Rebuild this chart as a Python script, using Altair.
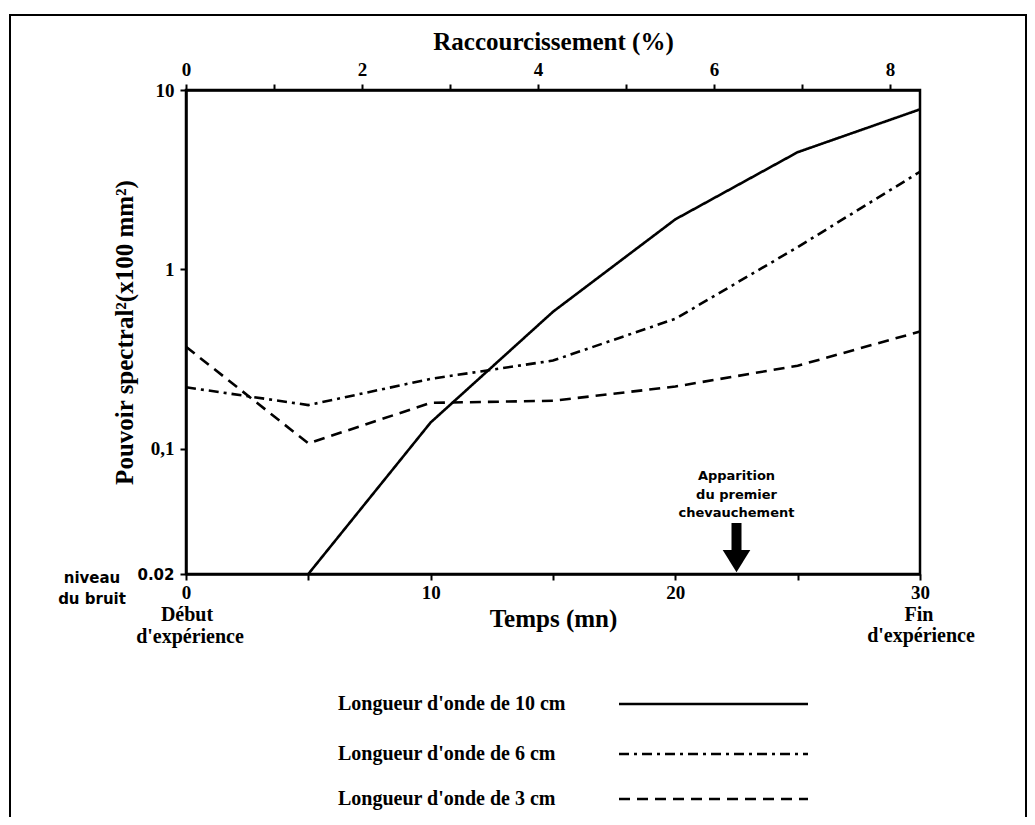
import altair as alt
import pandas as pd

# ---------------- data ----------------
series_names = ["Longueur d'onde de 10 cm", "Longueur d'onde de 6 cm", "Longueur d'onde de 3 cm"]

time_10 = [5, 10, 15, 20, 25, 30]
power_10 = [0.02, 0.14, 0.58, 1.9, 4.5, 7.8]

time_6 = [0, 5, 10, 15, 20, 25, 30]
power_6 = [0.22, 0.175, 0.245, 0.31, 0.53, 1.33, 3.5]

time_3 = [0, 5, 10, 15, 20, 25, 30]
power_3 = [0.37, 0.107, 0.18, 0.185, 0.222, 0.29, 0.45]

x_tick_values = [0, 5, 10, 15, 20, 25, 30]
x_tick_labels = ["0", "", "10", "", "20", "", "30"]
pct_tick_values = [0, 1, 2, 3, 4, 5, 6, 7, 8]
pct_tick_labels = ["0", "", "2", "", "4", "", "6", "", "8"]
pct_max = 8.34
y_tick_values = [0.02, 0.1, 1, 10]
y_tick_labels = ["0.02", "0,1", "1", "10"]

arrow_time = 22.5
arrow_lines = ["Apparition", "du premier", "chevauchement"]
arrow_line_levels = [0.0703, 0.0551, 0.0437]
arrow_shaft = [0.0385, 0.0272]
arrow_head = 0.0236

corner_texts = ["Début", "d'expérience", "Fin", "d'expérience", "niveau", "du bruit"]

# ---------------- layout (pixels, relative to plot origin) ----------------
W, H = 734, 484
corner_x = [1, 4, 733, 735, -94, -94]
corner_y = [525, 547, 525, 546, 488, 509]
legend_text_x = 152
legend_line_x = [433, 622]
legend_y = [614, 664, 709]
dash_styles = [[1, 0], [10, 5, 3, 5], [11, 7]]

SERIF = "Liberation Serif"
SANS = "DejaVu Sans"


def label_expr(values, labels):
    expr = "''"
    for v, l in zip(values, labels):
        expr = f"datum.value == {v} ? '{l}' : ({expr})"
    return expr


rows = []
for name, ts, ps in zip(series_names, [time_10, time_6, time_3], [power_10, power_6, power_3]):
    for t, p in zip(ts, ps):
        rows.append({"t": t, "p": p, "series": name})
lines_df = pd.DataFrame(rows)

x_enc = alt.X(
    "t:Q",
    scale=alt.Scale(domain=[0, 30], nice=False, zero=False),
    axis=alt.Axis(
        values=x_tick_values,
        labelExpr=label_expr(x_tick_values, x_tick_labels),
        title="Temps (mn)",
        titleX=W / 2,
        titleY=44,
        titleBaseline="middle",
        labelPadding=3,
        labelFlush=False,
        labelOverlap=False,
    ),
)

y_axis = alt.Axis(
    values=y_tick_values,
    labelExpr=label_expr(y_tick_values, y_tick_labels),
    title="Pouvoir spectral²(x100 mm²)",
    titleX=-62,
    titleY=H / 2,
    titleBaseline="middle",
    labelPadding=6,
    labelFlush=False,
    labelOverlap=False,
    labelFont={"condition": {"test": "datum.value < 0.05", "value": SANS}, "value": SERIF},
    labelFontSize={"condition": {"test": "datum.value < 0.05", "value": 15}, "value": 19},
)
y_scale = alt.Scale(type="log", domain=[0.02, 10], nice=False)

dash_scale = alt.Scale(domain=series_names, range=dash_styles)

lines = alt.Chart(lines_df).mark_line(color="black", strokeWidth=2.6).encode(
    x=x_enc,
    y=alt.Y("p:Q", scale=y_scale, axis=y_axis),
    strokeDash=alt.StrokeDash("series:N", scale=dash_scale, legend=None),
    detail="series:N",
)

arrow_df = pd.DataFrame({"t": [arrow_time], "top": [arrow_shaft[0]], "bot": [arrow_shaft[1]], "head": [arrow_head]})
shaft = alt.Chart(arrow_df).mark_rule(color="black", strokeWidth=10, strokeCap="butt").encode(
    x=x_enc,
    y=alt.Y("top:Q", scale=y_scale, axis=y_axis),
    y2="bot:Q",
)
head = alt.Chart(arrow_df).mark_point(
    shape="M-1,-0.8L1,-0.8L0,0.8Z", filled=True, color="black", opacity=1, size=760, strokeWidth=0
).encode(
    x=x_enc,
    y=alt.Y("head:Q", scale=y_scale, axis=y_axis),
)
arrow_text_df = pd.DataFrame({"t": [arrow_time] * 3, "p": arrow_line_levels, "text": arrow_lines})
arrow_text = alt.Chart(arrow_text_df).mark_text(
    font=SANS, fontWeight="bold", fontSize=13, color="black", align="center", baseline="middle"
).encode(
    x=x_enc,
    y=alt.Y("p:Q", scale=y_scale, axis=y_axis),
    text="text:N",
)

corner_df = pd.DataFrame({"text": corner_texts, "px": corner_x, "py": corner_y,
                          "font": [SERIF] * 4 + [SANS] * 2})
corner_serif = alt.Chart(corner_df.iloc[:4]).mark_text(
    font=SERIF, fontWeight="bold", fontSize=20, color="black", align="center", baseline="middle"
).encode(
    x=alt.X("px:Q", scale=None), y=alt.Y("py:Q", scale=None), text="text:N"
)
corner_sans = alt.Chart(corner_df.iloc[4:]).mark_text(
    font=SANS, fontWeight="bold", fontSize=15, color="black", align="center", baseline="middle"
).encode(
    x=alt.X("px:Q", scale=None), y=alt.Y("py:Q", scale=None), text="text:N"
)

legend_df = pd.DataFrame({
    "series": series_names,
    "tx": [legend_text_x] * 3,
    "lx": [legend_line_x[0]] * 3,
    "lx2": [legend_line_x[1]] * 3,
    "ly": legend_y,
})
legend_text = alt.Chart(legend_df).mark_text(
    font=SERIF, fontWeight="bold", fontSize=20, color="black", align="left", baseline="middle"
).encode(
    x=alt.X("tx:Q", scale=None), y=alt.Y("ly:Q", scale=None), text="series:N"
)
legend_lines = alt.Chart(legend_df).mark_rule(color="black", strokeWidth=2.6).encode(
    x=alt.X("lx:Q", scale=None), x2="lx2:Q", y=alt.Y("ly:Q", scale=None),
    strokeDash=alt.StrokeDash("series:N", scale=dash_scale, legend=None),
)

frame = alt.Chart(pd.DataFrame({"k": [0]})).mark_rect(
    fillOpacity=0, stroke="black", strokeWidth=2
).encode(
    x=alt.value(-176), x2=alt.value(840), y=alt.value(-75), y2=alt.value(740)
)

main = alt.layer(lines, shaft, head, arrow_text, corner_serif, corner_sans, legend_text, legend_lines, frame)

pct_df = pd.DataFrame({"pct": [0, pct_max]})
top_axis = alt.Chart(pct_df).mark_point(opacity=0).encode(
    x=alt.X(
        "pct:Q",
        scale=alt.Scale(domain=[0, pct_max], nice=False, zero=False),
        axis=alt.Axis(
            orient="top",
            values=pct_tick_values,
            labelExpr=label_expr(pct_tick_values, pct_tick_labels),
            title="Raccourcissement (%)",
            titleX=W / 2,
            titleY=-49,
            titleBaseline="middle",
            labelPadding=5,
            labelFlush=False,
            labelOverlap=False,
        ),
    ),
)

chart = (
    alt.layer(main, top_axis)
    .resolve_scale(x="independent")
    .properties(
        width=W,
        height=H,
        autosize=alt.AutoSizeParams(type="none"),
        padding={"left": 178, "top": 82, "right": 107, "bottom": 243},
        background="white",
    )
    .configure_view(stroke="black", strokeWidth=2.5)
    .configure_axis(
        grid=False,
        domainColor="black",
        domainWidth=2.5,
        tickColor="black",
        tickWidth=2,
        tickSize=6,
        labelColor="black",
        labelFont=SERIF,
        labelFontWeight="bold",
        labelFontSize=19,
        titleColor="black",
        titleFont=SERIF,
        titleFontWeight="bold",
        titleFontSize=25,
    )
)

chart.save("out.html", embed_options={"renderer": "svg", "actions": False})
